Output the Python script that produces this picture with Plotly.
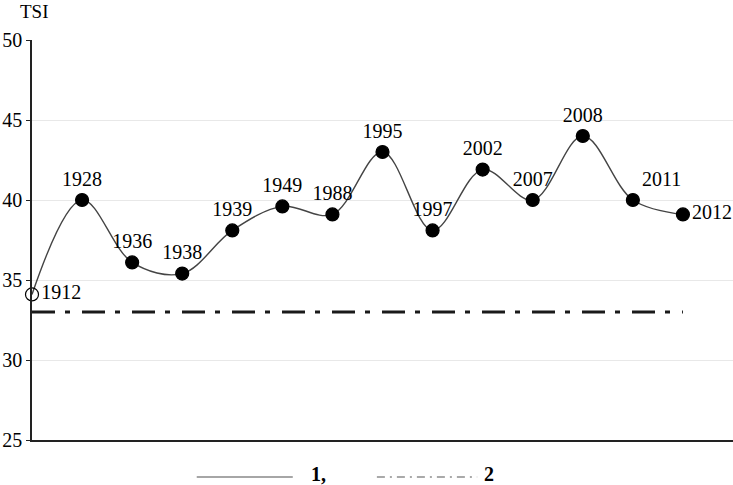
import plotly.graph_objects as go

years = ["1912", "1928", "1936", "1938", "1939", "1949", "1988", "1995",
         "1997", "2002", "2007", "2008", "2011", "2012"]
tsi = [34.1, 40.0, 36.1, 35.4, 38.1, 39.6, 39.1, 43.0, 38.1, 41.9, 40.0, 44.0, 40.0, 39.1]
threshold = [33.0] * len(years)
label_pos = ["middle right", "top center", "top center", "top center", "top center",
             "top center", "top center", "top center", "top center", "top center",
             "top center", "top center", "top right", "middle right"]
symbols = ["circle-open"] + ["circle"] * (len(years) - 1)
y_ticks = [25, 30, 35, 40, 45, 50]
legend_names = ["1,", "2"]

SERIF = "Liberation Serif, Times New Roman, serif"

fig = go.Figure()

fig.add_trace(go.Scatter(
    x=years, y=threshold, mode="lines",
    line=dict(color="#1a1a1a", width=3, dash="23px,10px,5px,12px"),
    showlegend=False, hoverinfo="skip",
))

fig.add_trace(go.Scatter(
    x=years, y=tsi, mode="lines+markers+text",
    line=dict(color="#444444", width=1.4, shape="spline", smoothing=1.0),
    marker=dict(size=13, color="black", symbol=symbols, line=dict(color="black", width=1.2)),
    text=years, textposition=label_pos,
    textfont=dict(family=SERIF, size=20, color="black"),
    showlegend=False, cliponaxis=False,
))

fig.update_layout(
    width=733, height=485,
    margin=dict(l=32, r=0, t=40, b=45, autoexpand=False),
    paper_bgcolor="white", plot_bgcolor="white",
    font=dict(family=SERIF, size=20, color="black"),
    xaxis=dict(
        type="category", range=[0, 14], showticklabels=False, ticks="",
        showgrid=False, showline=True, linecolor="#222", linewidth=1.5, zeroline=False,
        automargin=False,
    ),
    yaxis=dict(
        range=[25, 50], tickvals=y_ticks, ticks="outside", ticklen=4, tickcolor="#222",
        showline=True, linecolor="#222", linewidth=1.5, showgrid=True,
        gridcolor="#e8e8e8", gridwidth=1, zeroline=False, automargin=False,
        tickfont=dict(family=SERIF, size=20, color="black"),
    ),
    shapes=[
        dict(type="line", xref="paper", yref="paper", x0=0.235, x1=0.372, y0=-0.0925, y1=-0.0925,
             line=dict(color="#888888", width=1.6)),
        dict(type="line", xref="paper", yref="paper", x0=0.492, x1=0.635, y0=-0.0925, y1=-0.0925,
             line=dict(color="#555555", width=1.2, dash="8px,5px,2px,5px")),
    ],
    annotations=[
        dict(text="TSI", xref="paper", yref="paper", x=0.003, y=1.07, xanchor="center",
             yanchor="middle", showarrow=False,
             font=dict(family=SERIF, size=19, color="black")),
        dict(text="<b>" + legend_names[0] + "</b>", xref="paper", yref="paper", x=0.408, y=-0.086,
             yanchor="middle", showarrow=False, font=dict(family=SERIF, size=20, color="black")),
        dict(text="<b>" + legend_names[1] + "</b>", xref="paper", yref="paper", x=0.652, y=-0.086,
             yanchor="middle", showarrow=False, font=dict(family=SERIF, size=20, color="black")),
    ],
)

# remove the default 8px body margin so the figure fills the window exactly
fig.write_html("out.html", config={"displayModeBar": False},
               post_script="document.body.style.margin='0px';")
